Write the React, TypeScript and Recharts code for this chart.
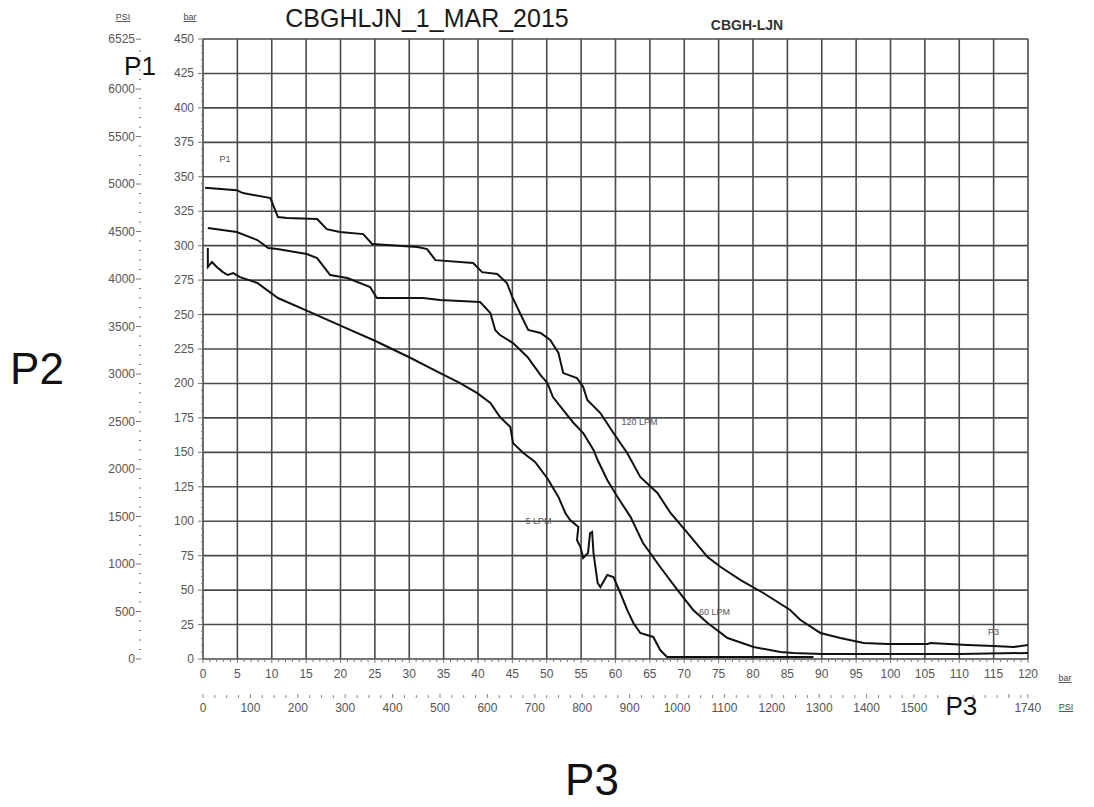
import { LineChart, Line, XAxis, YAxis, ReferenceLine, ReferenceDot } from 'recharts';

// bar -> psi
const PSI_PER_BAR = 14.5038;

// 120 LPM curve (P3 in bar, P2 in bar)
const lpm120X = [0.3, 4.9, 5.8, 9.8, 10.9, 12.2, 16.6, 18.0, 19.9, 23.3, 24.6, 31.2, 32.6, 33.8, 39.3, 40.6, 42.8, 44.2, 45.0, 46.1, 47.3, 49.1, 50.5, 51.7, 52.4, 54.4, 55.3, 55.9, 57.8, 59.7, 61.7, 63.6, 66.1, 68.0, 70.5, 73.4, 75.3, 78.2, 81.5, 85.4, 86.9, 89.8, 92.7, 96.1, 99.6, 105.4, 105.8, 111.2, 115.0, 117.9, 120];
const lpm120Y = [342, 340.3, 338.2, 334.5, 320.8, 320.0, 319.3, 312.0, 309.9, 308.4, 301.2, 299.0, 297.5, 289.5, 287.4, 280.8, 279.4, 272.9, 262.7, 251.1, 238.8, 236.6, 231.5, 222.1, 207.5, 203.9, 197.4, 188.0, 178.5, 164.0, 149.5, 132.1, 120.5, 106.0, 91.4, 74.0, 66.8, 57.3, 47.9, 35.6, 28.3, 18.9, 15.2, 11.6, 10.9, 10.9, 11.6, 10.2, 9.4, 8.7, 10.2];

// 60 LPM curve
const lpm60X = [0.7, 4.9, 7.9, 9.5, 10.8, 15.1, 16.6, 18.5, 21.0, 24.3, 25.3, 32.0, 34.5, 40.3, 41.8, 42.5, 43.2, 45.1, 47.2, 49.1, 50.1, 50.9, 52.4, 53.9, 55.3, 56.8, 57.4, 58.8, 60.3, 62.2, 64.0, 66.5, 69.0, 71.3, 73.4, 76.3, 80.1, 84.0, 85.9, 90, 100, 110, 120];
const lpm60Y = [312.8, 309.9, 304.1, 298.3, 297.5, 293.9, 291.0, 278.7, 276.5, 270.0, 262.0, 262.0, 260.5, 259.1, 251.1, 238.8, 235.1, 229.3, 219.2, 206.1, 200.3, 190.1, 180.7, 171.3, 164.0, 151.7, 144.4, 129.9, 117.6, 103.0, 84.2, 66.8, 50.1, 35.6, 26.1, 15.2, 8.7, 5.1, 4.4, 3.6, 3.6, 3.6, 4.4];

// 5 LPM curve (loops back around 55 bar)
const lpm5X = [0.7, 0.7, 1.3, 2.0, 2.9, 3.6, 4.4, 5.4, 7.9, 10.9, 15, 20, 25, 30, 34.5, 37.4, 39.9, 41.8, 43.2, 44.7, 45.1, 46.6, 48.3, 50.1, 51.7, 52.7, 53.4, 54.6, 54.4, 54.9, 55.3, 56.0, 56.3, 56.6, 56.8, 57.4, 57.8, 58.8, 59.7, 60.7, 61.7, 62.6, 63.6, 65.5, 66.5, 67.5, 75, 85, 88.8];
const lpm5Y = [298.3, 284.5, 288.1, 284.5, 280.8, 278.7, 280.1, 277.2, 272.9, 262.0, 253, 242, 231, 219, 207.5, 200.3, 193.0, 185.8, 175.6, 168.4, 156.7, 149.5, 143, 131, 117.6, 106.0, 100.9, 95.8, 86.4, 81.3, 73.3, 76.9, 91.4, 92.2, 76.9, 55.2, 52.2, 61.0, 59.5, 47.9, 35.6, 26.1, 18.9, 16.0, 6.5, 1.5, 1.5, 1.5, 1.5];

// ticks
const barYTicks = Array.from({ length: 91 }, (_, i) => i * 5);
const barXTicks = Array.from({ length: 121 }, (_, i) => i);
const psiYTicks = [...Array.from({ length: 65 }, (_, i) => i * 100), 6525];
const psiXTicks = [...Array.from({ length: 70 }, (_, i) => i * 25), 1740];
const gridX = Array.from({ length: 25 }, (_, i) => i * 5);
const gridY = Array.from({ length: 19 }, (_, i) => i * 25);

const toPoints = (xs: number[], ys: number[]) => xs.map((x, i) => ({ x, y: ys[i] }));
const data120 = toPoints(lpm120X, lpm120Y);
const data60 = toPoints(lpm60X, lpm60Y);
const data5 = toPoints(lpm5X, lpm5Y);

const FONT = '"Liberation Sans", Arial, sans-serif';
const TICK_COLOR = '#555';

function BarYTick({ x, y, payload }: any) {
  const v = payload.value;
  const major = v % 25 === 0;
  const edge = x + 7;
  return (
    <g>
      <line x1={edge - (major ? 5 : 2)} x2={edge} y1={y} y2={y} stroke="#777" />
      {major && (
        <text x={x - 2} y={y} dy={4} textAnchor="end" fontSize={12} fill={TICK_COLOR} fontFamily={FONT}>{v}</text>
      )}
    </g>
  );
}

function PsiYTick({ x, y, payload }: any) {
  const v = payload.value;
  const major = v % 500 === 0 || v === 6525;
  return (
    <g>
      <line x1={major ? x - 5 : x - 2} x2={x} y1={y} y2={y} stroke="#777" />
      {major && (
        <text x={x - 6} y={y} dy={4} textAnchor="end" fontSize={12} fill={TICK_COLOR} fontFamily={FONT}>{v}</text>
      )}
    </g>
  );
}

function BarXTick({ x, y, payload }: any) {
  const v = payload.value;
  const major = v % 5 === 0;
  const top = y - 8;
  return (
    <g>
      <line x1={x} x2={x} y1={top} y2={top + (major ? 4 : 3)} stroke="#777" />
      {major && (
        <text x={x} y={top + 19} textAnchor="middle" fontSize={12} fill={TICK_COLOR} fontFamily={FONT}>{v}</text>
      )}
    </g>
  );
}

function PsiXTick({ x, y, payload }: any) {
  const v = payload.value;
  const major = v % 100 === 0 || v === 1740;
  const top = y - 8;
  let label: any = null;
  if (v === 1600) {
    label = <text x={x} y={top + 26} textAnchor="middle" fontSize={26} fill="#111" fontFamily={FONT}>P3</text>;
  } else if (major && v !== 1700) {
    label = <text x={x} y={top + 23} textAnchor="middle" fontSize={12} fill={TICK_COLOR} fontFamily={FONT}>{v}</text>;
  }
  return (
    <g>
      {v !== 1600 && <line x1={x} x2={x} y1={top + (major ? 5 : 6)} y2={top + 9} stroke="#888" />}
      {label}
    </g>
  );
}

const smallLabel = (value: string) => ({ value, position: 'center' as const, fontSize: 9, fill: '#555', fontFamily: FONT });

export default function App() {
  return (
    <div style={{ position: 'absolute', left: 0, top: 0, width: 1094, height: 807, background: '#fff' }}>
      <LineChart width={1094} height={807} margin={{ top: 39, right: 66, left: 88, bottom: 88 }}>
        <XAxis xAxisId="bar" type="number" dataKey="x" domain={[0, 120]} ticks={barXTicks} interval={0}
          tick={<BarXTick />} tickLine={false} axisLine={false} height={30} tickSize={4} tickMargin={4} allowDataOverflow />
        <XAxis xAxisId="psi" type="number" dataKey="x" domain={[0, 120 * PSI_PER_BAR]} ticks={psiXTicks} interval={0}
          tick={<PsiXTick />} tickLine={false} axisLine={false} height={30} tickSize={4} tickMargin={4} allowDataOverflow />
        <YAxis yAxisId="bar" type="number" domain={[0, 450]} ticks={barYTicks} interval={0}
          tick={<BarYTick />} tickLine={false} axisLine={false} width={55} tickSize={4} tickMargin={3} allowDataOverflow />
        <YAxis yAxisId="psi" type="number" domain={[0, 450 * PSI_PER_BAR]} ticks={psiYTicks} interval={0}
          tick={<PsiYTick />} tickLine={false} axisLine={false} width={60} tickSize={4} tickMargin={3} allowDataOverflow />

        {gridX.map((v) => (
          <ReferenceLine key={`gx${v}`} xAxisId="bar" yAxisId="bar" x={v} stroke="#4a4a4a" strokeWidth={1.6} />
        ))}
        {gridY.map((v) => (
          <ReferenceLine key={`gy${v}`} xAxisId="bar" yAxisId="bar" y={v} stroke="#4a4a4a" strokeWidth={1.6} />
        ))}

        <Line xAxisId="bar" yAxisId="bar" data={data120} dataKey="y" type="linear" stroke="#111" strokeWidth={2} dot={false} isAnimationActive={false} />
        <Line xAxisId="bar" yAxisId="bar" data={data60} dataKey="y" type="linear" stroke="#111" strokeWidth={2} dot={false} isAnimationActive={false} />
        <Line xAxisId="bar" yAxisId="bar" data={data5} dataKey="y" type="linear" stroke="#111" strokeWidth={2} dot={false} isAnimationActive={false} />

        <ReferenceDot xAxisId="bar" yAxisId="bar" x={3.2} y={363} r={0} label={smallLabel('P1')} />
        <ReferenceDot xAxisId="bar" yAxisId="bar" x={63.5} y={172} r={0} label={smallLabel('120 LPM')} />
        <ReferenceDot xAxisId="bar" yAxisId="bar" x={74.4} y={34} r={0} label={smallLabel('60 LPM')} />
        <ReferenceDot xAxisId="bar" yAxisId="bar" x={48.8} y={100} r={0} label={smallLabel('5 LPM')} />
        <ReferenceDot xAxisId="bar" yAxisId="bar" x={115} y={20} r={0} label={smallLabel('P3')} />
      </LineChart>

      <svg width={1094} height={807} style={{ position: 'absolute', left: 0, top: 0, pointerEvents: 'none' }} fontFamily={FONT}>
        <text x={427} y={27} textAnchor="middle" fontSize={25} fill="#1a1a1a">CBGHLJN_1_MAR_2015</text>
        <text x={747} y={30} textAnchor="middle" fontSize={14} fontWeight="bold" fill="#333">CBGH-LJN</text>
        <text x={123} y={20} textAnchor="middle" fontSize={9} fill="#444" textDecoration="underline">PSI</text>
        <text x={190} y={20} textAnchor="middle" fontSize={9} fill="#444" textDecoration="underline">bar</text>
        <text x={1065} y={681} textAnchor="middle" fontSize={9} fill="#444" textDecoration="underline">bar</text>
        <text x={1066} y={710} textAnchor="middle" fontSize={9} fill="#444" textDecoration="underline">PSI</text>
        <text x={140} y={75} textAnchor="middle" fontSize={26} fill="#111">P1</text>
        <text x={37} y={384} textAnchor="middle" fontSize={44} fill="#111">P2</text>
        <text x={592} y={795} textAnchor="middle" fontSize={44} fill="#111">P3</text>
      </svg>
    </div>
  );
}
